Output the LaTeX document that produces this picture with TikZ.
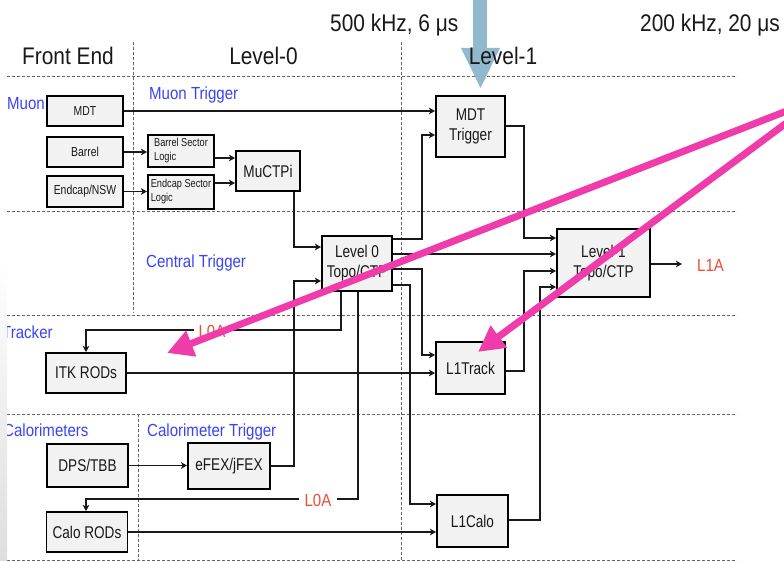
\documentclass[tikz,border=0pt]{standalone}
\usepackage{fontspec}
\setmainfont{Liberation Sans}
\newfontfamily\hdrfont[FakeStretch=0.87]{Liberation Sans}
\newfontfamily\labfont[FakeStretch=0.86]{Liberation Sans}
\newfontfamily\bxfont[FakeStretch=0.8]{Liberation Sans}
\usetikzlibrary{arrows.meta}
\definecolor{boxfill}{RGB}{242,242,242}
\definecolor{secblue}{RGB}{58,68,245}
\definecolor{sigred}{RGB}{238,75,55}
\definecolor{pinkarr}{RGB}{240,60,170}
\definecolor{skyarr}{RGB}{145,184,204}
\definecolor{dashgray}{RGB}{100,100,100}
\definecolor{txt}{RGB}{25,25,25}
\tikzset{
  box/.style={draw=black, line width=1.9pt, fill=boxfill, inner sep=0pt, align=center, text=txt, font={\bxfont\fontsize{17}{20}\selectfont}},
  smallbox/.style={box, font={\bxfont\fontsize{13}{15}\selectfont}},
  logicbox/.style={box, align=left, font={\bxfont\fontsize{11.5}{14}\selectfont}},
  conn/.style={black!90, line width=1.5pt, -{Stealth[length=6pt,width=6.5pt,inset=1.5pt]}},
  wire/.style={black!90, line width=1.5pt},
  sepline/.style={dashgray, line width=0.9pt, dash pattern=on 3pt off 2pt},
  hdr/.style={font={\hdrfont\fontsize{24}{28}\selectfont}, text=txt, inner sep=0pt, anchor=base},
  sec/.style={font={\labfont\fontsize{17.5}{20}\selectfont}, text=secblue, inner sep=0pt, anchor=base west},
  sig/.style={font={\labfont\fontsize{17.5}{20}\selectfont}, text=sigred},
  pinkarrow/.style={pinkarr, line width=7pt, -{Triangle[length=26pt,width=26pt]}}
}
\begin{document}
\begin{tikzpicture}[x=1pt,y=-1pt]
\useasboundingbox (0,0) rectangle (784,561);
\clip (0,0) rectangle (784,561);
\fill[white] (0,0) rectangle (784,561);

% separators
\draw[sepline] (7,76) -- (737,76);
\draw[sepline] (7,211) -- (737,211);
\draw[sepline] (7,315) -- (737,315);
\draw[sepline] (7,414) -- (737,414);
\draw[sepline] (7,560) -- (737,560);
\draw[sepline] (133,42) -- (133,313);
\draw[sepline] (138,414) -- (138,561);
\draw[sepline] (401,42) -- (401,561);

% blue arrow
\fill[skyarr] (473,0) rectangle (487,48);
\fill[skyarr] (461,48) -- (500,48) -- (480.5,88) -- cycle;

% headers
\node[hdr] (fe) at (68,65) {Front End};
\node[hdr] (lv0) at (263.5,65) {Level-0};
\node[hdr] (lv1) at (503,65) {Level-1};
\node[hdr, anchor=base west] (rate0) at (330,31.5) {500 kHz, 6 μs};
\node[hdr, anchor=base west] (rate1) at (640,31.5) {200 kHz, 20 μs};

% section labels
\node[sec] (muon) at (7,109.5) {Muon};
\node[sec] (muontrig) at (149,100) {Muon Trigger};
\node[sec] (central) at (146,268) {Central Trigger};
\node[sec] (tracker) at (2,338) {Tracker};
\node[sec] (calos) at (3,436) {Calorimeters};
\node[sec] (calotrig) at (147,436) {Calorimeter Trigger};

% boxes
\node[smallbox, minimum width=76, minimum height=30] (mdt) at (85,111) {MDT};
\node[smallbox, minimum width=76, minimum height=30] (barrel) at (85,152) {Barrel};
\node[smallbox, minimum width=76, minimum height=31] (endcap) at (85,191.5) {Endcap/NSW};
\node[logicbox, minimum width=66, minimum height=32] (bsl) at (181,151) {Barrel Sector\\Logic};
\node[logicbox, minimum width=66, minimum height=34] (esl) at (181,192) {Endcap Sector\\Logic};
\node[box, minimum width=64, minimum height=40] (muctpi) at (268,171) {MuCTPi};
\node[box, minimum width=69, minimum height=61] (mdttrig) at (470.5,126.5) {MDT\\Trigger};
\node[box, minimum width=70, minimum height=55] (l0) at (357,263.5) {Level 0\\Topo/CTP};
\node[box, minimum width=93, minimum height=68] (l1) at (603.5,263) {Level-1\\Topo/CTP};
\node[box, minimum width=80, minimum height=40] (itk) at (86,373) {ITK RODs};
\node[box, minimum width=69, minimum height=52] (l1track) at (470.5,368) {L1Track};
\node[box, minimum width=81, minimum height=43] (dps) at (87.5,465.5) {DPS/TBB};
\node[box, minimum width=82, minimum height=46] (efex) at (229,466) {eFEX/jFEX};
\node[box, minimum width=81, minimum height=40] (calorods) at (87,532) {Calo RODs};
\node[box, minimum width=71, minimum height=52] (l1calo) at (472.5,521) {L1Calo};

% connectors
\draw[conn] (mdt.east) -- (mdttrig.west |- mdt.east);
\draw[conn] (barrel.east) -- (bsl.west |- barrel.east);
\draw[conn] (endcap.east) -- (esl.west |- endcap.east);
\draw[conn] (bsl.east |- 0,158) -- (muctpi.west |- 0,158);
\draw[conn] (esl.east |- 0,183) -- (muctpi.west |- 0,183);
\draw[conn] (muctpi.south -| 294,0) -- (294,247) -- (l0.west |- 0,247);
\draw[conn] (efex.east) -- (294,466) -- (294,281) -- (l0.west |- 0,281);
\draw[conn] (l0.east |- 0,239) -- (422,239) -- (422,135) -- (mdttrig.west |- 0,135);
\draw[conn] (l0.east |- 0,254) -- (l1.west |- 0,254);
\draw[conn] (l0.east |- 0,269) -- (422,269) -- (422,355) -- (l1track.west |- 0,355);
\draw[conn] (l0.east |- 0,285) -- (410,285) -- (410,504) -- (l1calo.west |- 0,504);
\draw[conn] (mdttrig.east |- 0,126) -- (524,126) -- (524,238) -- (l1.west |- 0,238);
\draw[conn] (l1track.east |- 0,371) -- (524,371) -- (524,271) -- (l1.west |- 0,271);
\draw[conn] (l1calo.east |- 0,520) -- (540,520) -- (540,287) -- (l1.west |- 0,287);
\draw[conn] (itk.east) -- (l1track.west |- itk.east);
\draw[conn] (calorods.east) -- (l1calo.west |- calorods.east);
\draw[conn] (dps.east) -- (efex.west |- dps.east);
\draw[conn] (l0.south -| 341,0) -- (341,330) -- (86,330) -- (itk.north);
\draw[conn] (l0.south -| 358,0) -- (358,499) -- (86,499) -- (calorods.north -| 86,0);
\coordinate (l1aend) at (682,264);
\draw[conn] (l1.east |- l1aend) -- (l1aend);

% signal labels
\node[sig, fill=white, inner xsep=5pt, inner ysep=0pt] (l0a1) at (212,331) {L0A};
\node[sig, fill=white, inner xsep=6pt, inner ysep=0pt] (l0a2) at (318,500) {L0A};
\node[sig, inner sep=0pt, anchor=west] (l1a) at (697,265.5) {L1A};

% left fade strip
\shade[top color=white, bottom color=black!13] (0,260) rectangle (7,561);

% pink arrows
\coordinate (porig) at (820,98);
\coordinate (ptip1) at (167,353);
\coordinate (ptip2) at (478,352);
\draw[pinkarrow] (porig) -- (ptip1);
\draw[pinkarrow] (porig) -- (ptip2);
\end{tikzpicture}
\end{document}
